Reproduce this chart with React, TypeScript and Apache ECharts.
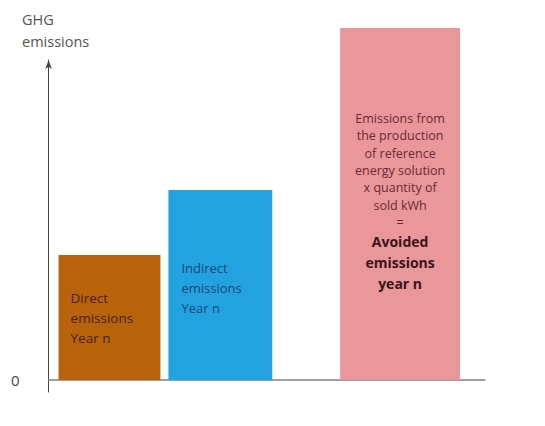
import React, { useEffect, useRef } from "react";
import * as echarts from "echarts";

const categories = ["Direct emissions Year n", "Indirect emissions Year n", "Avoided emissions year n"];
const barStart = [10, 120, 292];
const barEnd = [112, 224, 412];
const barHeight = [125, 190, 352];
const barColors = ["#B8620C", "#22A3DF", "#E9979B"];
const yTickLabels = [0];
const axisTitle = "GHG\nemissions";
const directLabel = "Direct\nemissions\nYear n";
const indirectLabel = "Indirect\nemissions\nYear n";
const avoidedSmall = ["Emissions from", "the production", "of reference", "energy solution", "x quantity of", "sold kWh", "="];
const avoidedBold = ["Avoided", "emissions", "year n"];

export default function App() {
  const ref = useRef<HTMLDivElement>(null);
  useEffect(() => {
    if (!ref.current) return;
    const chart = echarts.init(ref.current, null, { renderer: "svg" });
    const data = categories.map((c, i) => ({ name: c, value: [barStart[i], barEnd[i], barHeight[i], i] }));
    const richText =
      avoidedSmall.map((s) => `{a|${s}}`).join("\n") + "\n" + avoidedBold.map((s) => `{b|${s}}`).join("\n");
    chart.setOption({
      animation: false,
      grid: { left: 40, right: 60, top: 52, bottom: 34 },
      xAxis: {
        type: "value",
        min: 0,
        max: 437,
        axisLine: { show: true, onZero: true, lineStyle: { color: "#808080", width: 1.5 } },
        axisTick: { show: false },
        axisLabel: { show: false },
        splitLine: { show: false },
      },
      yAxis: {
        type: "value",
        min: -12,
        max: 320,
        axisLine: {
          show: true,
          onZero: false,
          symbol: ["none", "arrow"],
          symbolSize: [5, 9],
          lineStyle: { color: "#444", width: 1 },
        },
        axisTick: { show: false },
        splitLine: { show: false },
        axisLabel: {
          customValues: yTickLabels,
          margin: 29,
          fontSize: 15,
          color: "#444",
          fontFamily: "Open Sans",
        },
      },
      graphic: [
        {
          type: "text",
          left: 14,
          top: 0,
          style: { text: axisTitle, font: "14.5px 'Open Sans'", fill: "#555", lineHeight: 22 },
        },
      ],
      series: [
        {
          type: "custom",
          clip: false,
          data,
          renderItem: (params: any, api: any) => {
            const s = api.value(0);
            const e = api.value(1);
            const h = api.value(2);
            const idx = api.value(3);
            const p0 = api.coord([s, 0]);
            const p1 = api.coord([e, h]);
            const x = p0[0];
            const y = p1[1];
            const w = p1[0] - p0[0];
            const ht = p0[1] - p1[1];
            const children: any[] = [
              { type: "rect", shape: { x, y, width: w, height: ht }, style: { fill: barColors[idx] } },
            ];
            if (idx === 0) {
              children.push({
                type: "text",
                style: {
                  x: x + 12,
                  y: y + 33,
                  text: directLabel,
                  font: "13.5px 'Open Sans'",
                  fill: "#4a2206",
                  lineHeight: 20,
                  textVerticalAlign: "top",
                },
              });
            } else if (idx === 1) {
              children.push({
                type: "text",
                style: {
                  x: x + 13,
                  y: y + 68,
                  text: indirectLabel,
                  font: "13px 'Open Sans'",
                  fill: "#17477a",
                  lineHeight: 20,
                  textVerticalAlign: "top",
                },
              });
            } else {
              children.push({
                type: "text",
                style: {
                  x: x + w / 2,
                  y: y + 82,
                  text: richText,
                  textAlign: "center",
                  textVerticalAlign: "top",
                  rich: {
                    a: { font: "12.5px 'Open Sans'", fill: "#6a2a35", lineHeight: 17.3, align: "center" },
                    b: { font: "bold 14px 'Open Sans'", fill: "#3a1418", lineHeight: 21, align: "center" },
                  },
                },
              });
            }
            return { type: "group", children };
          },
        },
      ],
    });
    return () => chart.dispose();
  }, []);
  return <div ref={ref} style={{ width: 537, height: 418 }} />;
}
